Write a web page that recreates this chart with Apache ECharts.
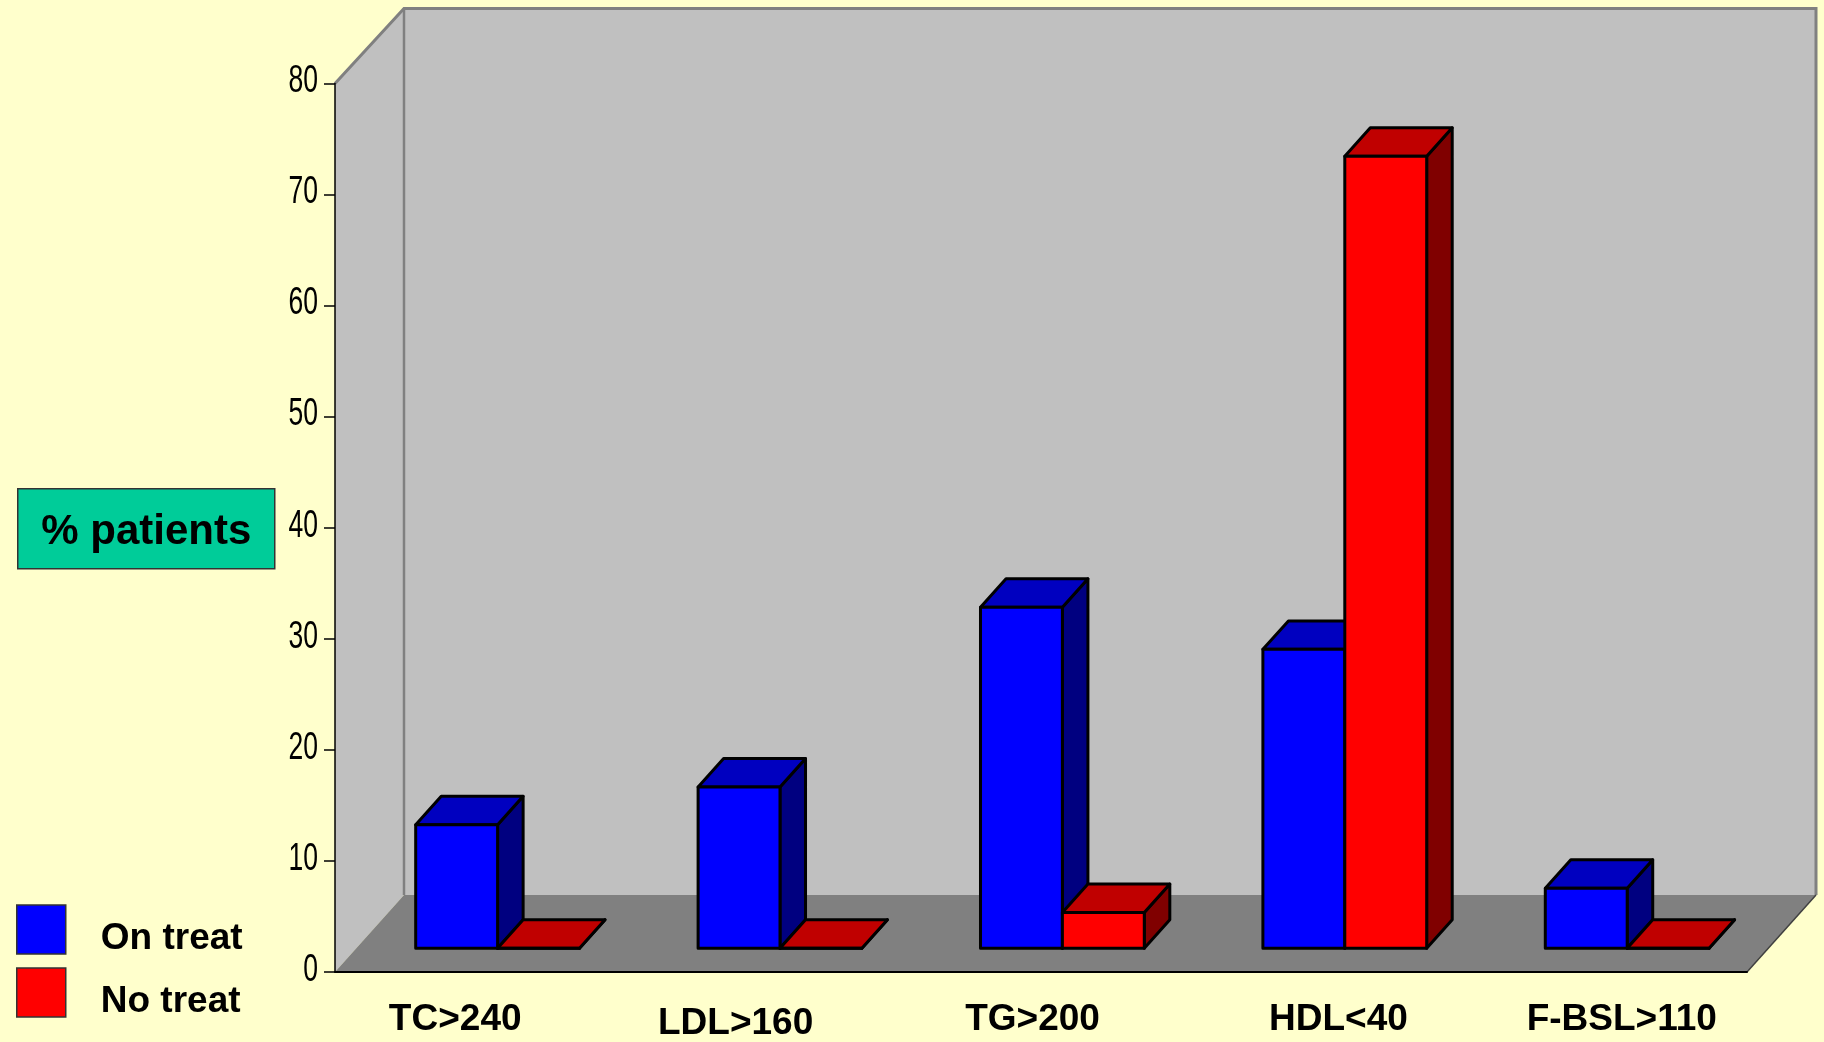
<!DOCTYPE html>
<html>
<head>
<meta charset="utf-8">
<title>% patients</title>
<script src="https://cdn.jsdelivr.net/npm/echarts@6/dist/echarts.min.js"></script>
<style>
  html, body { margin: 0; padding: 0; background: #FFFFCC; }
  #chart { width: 1824px; height: 1042px; }
</style>
</head>
<body>
<div id="chart"></div>
<script>
// ---- data ----
const categories = ['TC>240', 'LDL>160', 'TG>200', 'HDL<40', 'F-BSL>110'];
const onTreat = [11.1, 14.5, 30.7, 26.9, 5.4];
const noTreat = [0, 0, 3.2, 71.3, 0];
const valueTicks = [0, 10, 20, 30, 40, 50, 60, 70, 80];

// ---- 3D look ----
const DEPTH = [69, -77];          // receding vector, front edge of floor -> back wall
const TOP_DEPTH = [69, -75];      // same, measured along the top of the walls
const BAR_FRONT = 0.31;           // bars sit between these fractions of the floor depth
const BAR_BACK = 0.68;
const BAR_SHARE = 0.29;           // width of one bar as a share of a category slot
const LABEL_NUDGE = [[0, 42, 0, 0], [7, 46, 0, 0], [0, 17, 0, 0], [0, 0, 0, 30], [0, 0, 0, 32]];

const palette = {
  on: { front: '#0000FF', top: '#0000C0', side: '#000080' },
  no: { front: '#FF0000', top: '#C00000', side: '#800000' }
};

const chart = echarts.init(document.getElementById('chart'), null, { renderer: 'canvas' });

function renderWalls(params, api) {
  const cs = params.coordSys;
  const L = cs.x, R = cs.x + cs.width, T = cs.y, B = cs.y + cs.height;
  const dx = DEPTH[0], dy = DEPTH[1];
  const tx = TOP_DEPTH[0], ty = TOP_DEPTH[1];
  return {
    type: 'group',
    children: [
      { type: 'polygon', shape: { points: [[L + tx, T + ty], [R + tx, T + ty], [R + dx, B + dy], [L + dx, B + dy]] },
        style: { fill: '#C0C0C0' } },
      { type: 'polygon', shape: { points: [[L, T], [L + tx, T + ty], [L + dx, B + dy], [L, B]] },
        style: { fill: '#C0C0C0' } },
      { type: 'polygon', shape: { points: [[L, B], [L + dx, B + dy], [R + dx, B + dy], [R, B]] },
        style: { fill: '#808080' } },
      { type: 'polyline', shape: { points: [[L, T], [L + tx, T + ty], [R + tx, T + ty], [R + dx, B + dy]] },
        style: { stroke: '#808080', lineWidth: 3, fill: null } },
      { type: 'line', shape: { x1: L + tx, y1: T + ty, x2: L + dx, y2: B + dy },
        style: { stroke: '#808080', lineWidth: 2.5 } },
      { type: 'line', shape: { x1: R, y1: B, x2: R + dx, y2: B + dy },
        style: { stroke: '#404040', lineWidth: 1.5 } }
    ]
  };
}

// value-axis tick labels, set in a condensed face
function renderTickLabel(params, api) {
  const v = api.value(1);
  const p = api.coord([0, v]);
  return {
    type: 'text',
    x: params.coordSys.x - 17,
    y: p[1] - 2,
    scaleX: 0.68,
    style: {
      text: String(v),
      font: '39px "Liberation Sans", Arial, sans-serif',
      fill: '#000',
      align: 'right',
      verticalAlign: 'middle'
    }
  };
}

function barRenderer(side, colors) {
  return function (params, api) {
    const cat = api.value(0);
    const val = api.value(1);
    const base = api.coord([cat, 0]);
    const top = api.coord([cat, val]);
    const w = api.size([1, 0])[0] * BAR_SHARE;
    const ox = DEPTH[0] * BAR_FRONT, oy = DEPTH[1] * BAR_FRONT;
    const dx = DEPTH[0] * (BAR_BACK - BAR_FRONT), dy = DEPTH[1] * (BAR_BACK - BAR_FRONT);
    const x0 = base[0] + ox + (side === 0 ? -w : 0);
    const x1 = x0 + w;
    const yb = base[1] + oy;
    const yt = top[1] + oy;
    const edge = { stroke: '#000', lineWidth: 3, lineJoin: 'round' };
    return {
      type: 'group',
      children: [
        { type: 'polygon', shape: { points: [[x1, yb], [x1 + dx, yb + dy], [x1 + dx, yt + dy], [x1, yt]] },
          style: Object.assign({ fill: colors.side }, edge) },
        { type: 'polygon', shape: { points: [[x0, yt], [x0 + dx, yt + dy], [x1 + dx, yt + dy], [x1, yt]] },
          style: Object.assign({ fill: colors.top }, edge) },
        { type: 'rect', shape: { x: x0, y: yt, width: w, height: yb - yt },
          style: Object.assign({ fill: colors.front }, edge) }
      ]
    };
  };
}

const labelRich = {};
LABEL_NUDGE.forEach(function (pad, i) {
  labelRich['c' + i] = {
    fontFamily: '"Liberation Sans", Arial, sans-serif', fontWeight: 'bold',
    fontSize: 37, lineHeight: 40, color: '#000', padding: pad
  };
});

const option = {
  backgroundColor: '#FFFFCC',
  animation: false,
  grid: { left: 335, top: 83.5, width: 1412, height: 889.5, containLabel: false },
  xAxis: {
    type: 'category',
    data: categories,
    z: 5,
    axisLine: { lineStyle: { color: '#000', width: 2 } },
    axisTick: { show: false },
    splitLine: { show: false },
    axisLabel: {
      margin: 28,
      verticalAlign: 'top',
      interval: 0,
      formatter: function (v, i) { return '{c' + i + '|' + v + '}'; },
      rich: labelRich
    }
  },
  yAxis: {
    type: 'value',
    min: valueTicks[0],
    max: valueTicks[valueTicks.length - 1],
    interval: valueTicks[1] - valueTicks[0],
    z: 5,
    axisLine: { show: true, lineStyle: { color: '#000', width: 1.5 } },
    axisTick: { show: true, length: 11, lineStyle: { color: '#000', width: 1.5 } },
    splitLine: { show: false },
    axisLabel: { show: false }
  },
  legend: {
    orient: 'vertical',
    left: 16,
    top: 901.5,
    padding: 0,
    itemWidth: 49,
    itemHeight: 49,
    itemGap: 7,
    selectedMode: false,
    data: [
      { name: 'On treat', icon: 'rect', itemStyle: { color: '#0000FF', borderColor: '#333', borderWidth: 1.5 } },
      { name: 'No treat', icon: 'rect', itemStyle: { color: '#FF0000', borderColor: '#333', borderWidth: 1.5 } }
    ],
    formatter: function (name) { return '\n' + name; },
    textStyle: {
      fontFamily: '"Liberation Sans", Arial, sans-serif',
      fontWeight: 'bold',
      fontSize: 37,
      lineHeight: 19,
      color: '#000',
      padding: [0, 0, 0, 30]
    }
  },
  graphic: [{
    type: 'group',
    left: 17,
    top: 488,
    children: [
      { type: 'rect', shape: { x: 0, y: 0, width: 257, height: 80 },
        style: { fill: '#00CC99', stroke: '#333', lineWidth: 1.5 } },
      { type: 'text', x: 128.5, y: 44,
        style: { text: '% patients', font: 'bold 42px "Liberation Sans", Arial, sans-serif',
                 fill: '#000', align: 'center', verticalAlign: 'middle' } }
    ]
  }],
  series: [
    {
      type: 'custom', name: 'walls', z: 1, silent: true,
      renderItem: renderWalls,
      data: [[0, 0]]
    },
    {
      type: 'custom', name: 'valueTicks', z: 6, silent: true,
      renderItem: renderTickLabel,
      data: valueTicks.map(function (v) { return [0, v]; })
    },
    {
      type: 'custom', name: 'On treat', z: 10,
      itemStyle: { color: palette.on.front },
      renderItem: barRenderer(0, palette.on),
      data: onTreat.map(function (v, i) { return [i, v]; })
    },
    {
      type: 'custom', name: 'No treat', z: 11,
      itemStyle: { color: palette.no.front },
      renderItem: barRenderer(1, palette.no),
      data: noTreat.map(function (v, i) { return [i, v]; })
    }
  ]
};

chart.setOption(option);
</script>
</body>
</html>
